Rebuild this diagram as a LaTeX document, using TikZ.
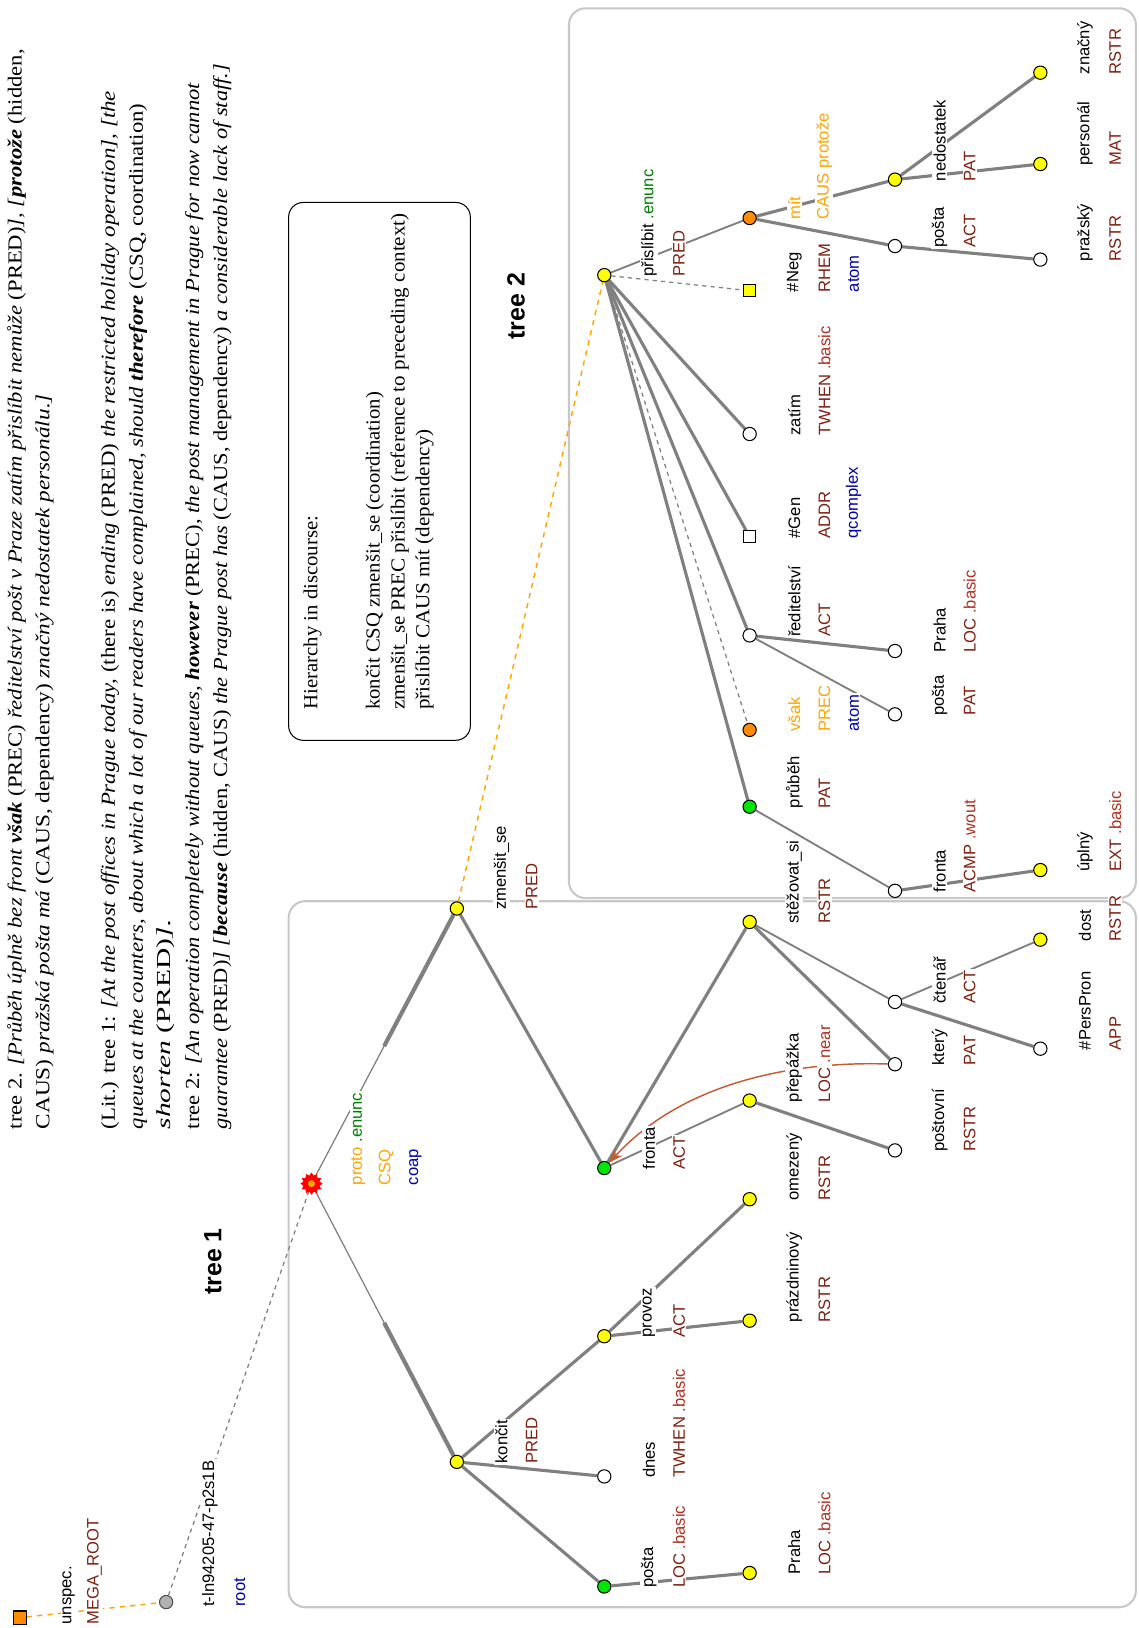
\documentclass[tikz,border=0pt]{standalone}
\usepackage{graphicx}
\usepackage{fontspec}
\setmainfont{Liberation Serif}
\setsansfont{Liberation Sans}
\usetikzlibrary{calc,shapes.geometric,arrows.meta}
\pgfdeclarelayer{bg}\pgfdeclarelayer{edges}\pgfdeclarelayer{labels}
\pgfsetlayers{bg,edges,labels,main}
\definecolor{edgegray}{RGB}{128,128,128}
\definecolor{boxgray}{RGB}{200,200,200}
\definecolor{fun}{RGB}{128,32,16}
\definecolor{subf}{RGB}{176,48,32}
\definecolor{org}{RGB}{255,165,0}
\definecolor{grn}{RGB}{0,128,0}
\definecolor{blu}{RGB}{0,0,170}
\definecolor{yel}{RGB}{255,255,0}
\definecolor{ngreen}{RGB}{0,230,0}
\definecolor{ornode}{RGB}{255,140,0}
\definecolor{corefc}{RGB}{200,90,50}
\newcommand\lf{\sffamily\fontsize{8}{9.6}\selectfont}
\newcommand\tf{\rmfamily\fontsize{9.6}{11.6}\selectfont}
\newcommand\fu[1]{\textcolor{fun}{#1}}
\newcommand\sbf[1]{\textcolor{subf}{#1}}
\newcommand\bi[1]{\textbf{\textit{#1}}}
\newcommand\fitw[2]{\resizebox{#1}{\height}{#2}}
\tikzset{
  edge/.style={draw=edgegray, line width=1.5pt},
  thinedge/.style={draw=edgegray, line width=0.9pt},
  graydash/.style={draw=edgegray, line width=0.6pt, dash pattern=on 2pt off 2pt},
  orgdash/.style={draw=org, line width=0.7pt, dash pattern=on 2.5pt off 2.5pt},
  coref/.style={draw=corefc, line width=0.7pt, -{Stealth[length=7pt,width=5pt]}},
  lbl/.style={rotate=90, anchor=west, fill=white, inner sep=0.6pt, font=\lf},
  txt/.style={rotate=90, anchor=west, inner sep=0pt, font=\tf},
  tn/.style={circle, draw=black, line width=0.5pt, minimum size=6.4pt, inner sep=0pt},
  sq/.style={rectangle, draw=black, line width=0.5pt, minimum size=5.6pt, inner sep=0pt},
  boxline/.style={draw=boxgray, line width=1pt, rounded corners=8pt},
  treetitle/.style={rotate=90, font=\sffamily\bfseries\fontsize{12}{14}\selectfont}
}
\newcommand\labAB[3]{%
  \node[lbl] (#1-a) at ($(#1)+(43,3)$) {#2};
  \node[lbl] (#1-b) at ($(#1)+(72,3)$) {#3};}
\newcommand\labC[2]{\node[lbl] (#1-c) at ($(#1)+(100,3)$) {#2};}
\begin{document}
\begin{tikzpicture}[x=0.5pt,y=-0.5pt]
\useasboundingbox (0,0) rectangle (1097,1568);
\begin{pgfonlayer}{bg}
\fill[white] (0,0) rectangle (1097,1568);
\draw[boxline] (548,8) rectangle (1094,865);
\draw[boxline] (278,868) rectangle (1094,1548);
\end{pgfonlayer}

% ---------- header text ----------
\node[txt] (t1) at (16,1088) {\fitw{520pt}{tree 2. \textit{[Průběh úplně bez front} \bi{však} (PREC) \textit{ředitelství pošt v Praze zatím přislíbit nemůže} (PRED)\textit{],} \textit{[}\bi{protože} (hidden,}};
\node[txt] (t2) at (43,1088) {\fitw{354pt}{CAUS) \textit{pražská pošta má} (CAUS, dependency) \textit{značný nedostatek personálu.]}}};
\node[txt] (t3) at (106,1088) {\fitw{500pt}{(Lit.) tree 1: \textit{[At the post offices in Prague today,} (there is) \textit{ending} (PRED) \textit{the restricted holiday operation], [the}}};
\node[txt] (t4) at (133,1088) {\fitw{494pt}{\textit{queues at the counters, about which a lot of our readers have complained, should} \bi{therefore} (CSQ, coordination)}};
\node[txt] (t5) at (160,1088) {\fitw{101pt}{\textit{shorten} (PRED)\textit{].}}};
\node[txt] (t6) at (187,1088) {\fitw{504pt}{tree 2: \textit{[An operation completely without queues,} \bi{however} (PREC), \textit{the post management in Prague for now cannot}}};
\node[txt] (t7) at (214,1088) {\fitw{513pt}{\textit{guarantee} (PRED)\textit{]} \textit{[}\bi{because} (hidden, CAUS) \textit{the Prague post has} (CAUS, dependency) \textit{a considerable lack of staff.]}}};

% ---------- discourse box ----------
\draw[black, line width=0.5pt, rounded corners=7pt] (278,195) rectangle (453,713);
\node[txt] (h0) at (301,684) {\fitw{93.5pt}{Hierarchy in discourse:}};
\node[txt] (h1) at (361,684) {\fitw{153pt}{končit CSQ zmenšit\_se (coordination)}};
\node[txt] (h2) at (385,684) {\fitw{239pt}{zmenšit\_se PREC přislíbit (reference to preceding context)}};
\node[txt] (h3) at (409,684) {\fitw{135pt}{přislíbit CAUS mít (dependency)}};

\node[treetitle] (tree1) at (205,1215) {tree 1};
\node[treetitle] (tree2) at (497,295) {tree 2};

% ---------- nodes : tree 1 ----------
\node[sq, fill=ornode, minimum size=6.4pt] (mega) at (19,1558) {};
\node[circle, draw=black!70, fill=black!30, line width=0.5pt, minimum size=6.4pt, inner sep=0pt] (root) at (160,1543) {};
\node[star, star points=12, star point ratio=1.35, fill=red, draw=red, minimum size=10pt, inner sep=0pt] (coap) at (300,1140) {};
\node[circle, fill=org, minimum size=3.4pt, inner sep=0pt] (coapc) at (coap) {};
\node[tn, fill=yel] (zmen) at (440,875) {};
\node[tn, fill=yel] (koncit) at (440,1408) {};
\node[tn, fill=ngreen] (posta1) at (582,1528) {};
\node[tn, fill=yel] (praha1) at (722,1515) {};
\node[tn, fill=white] (dnes) at (582,1422) {};
\node[tn, fill=yel] (provoz) at (582,1287) {};
\node[tn, fill=yel] (prazd) at (722,1272) {};
\node[tn, fill=yel] (omez) at (722,1155) {};
\node[tn, fill=ngreen] (fronta1) at (582,1125) {};
\node[tn, fill=yel] (prep) at (722,1060) {};
\node[tn, fill=white] (postov) at (862,1108) {};
\node[tn, fill=yel] (stez) at (722,888) {};
\node[tn, fill=white] (cten) at (862,965) {};
\node[tn, fill=white] (ktery) at (862,1025) {};
\node[tn, fill=yel] (dost) at (1002,905) {};
\node[tn, fill=white] (perspron) at (1002,1010) {};

% ---------- nodes : tree 2 ----------
\node[tn, fill=yel] (prisl) at (582,265) {};
\node[sq, fill=yel] (neg) at (722,280) {};
\node[tn, fill=ornode] (mit) at (722,210) {};
\node[tn, fill=yel] (nedost) at (862,173) {};
\node[tn, fill=yel] (znacny) at (1002,70) {};
\node[tn, fill=yel] (personal) at (1002,158) {};
\node[tn, fill=white] (posta2) at (862,237) {};
\node[tn, fill=white] (prazsky) at (1002,250) {};
\node[tn, fill=white] (zatim) at (722,418) {};
\node[sq, fill=white] (gen) at (722,517) {};
\node[tn, fill=white] (redit) at (722,612) {};
\node[tn, fill=white] (praha2) at (862,627) {};
\node[tn, fill=white] (posta3) at (862,688) {};
\node[tn, fill=ornode] (vsak) at (722,703) {};
\node[tn, fill=ngreen] (prubeh) at (722,777) {};
\node[tn, fill=white] (fronta2) at (862,858) {};
\node[tn, fill=yel] (uplny) at (1002,838) {};

% ---------- edges ----------
\begin{pgfonlayer}{edges}
\draw[orgdash] (mega) -- (root);
\draw[graydash] (root) -- (coap);
\coordinate (mk) at ($(coap)!0.5!(koncit)$);
\coordinate (mz) at ($(coap)!0.5!(zmen)$);
\draw[thinedge, line width=0.6pt] (coap) -- (mk);
\draw[edge, line width=2pt] (mk) -- (koncit);
\draw[thinedge, line width=0.6pt] (coap) -- (mz);
\draw[edge, line width=2pt] (mz) -- (zmen);
\draw[edge] (zmen) -- (fronta1);
\draw[edge] (fronta1) -- (stez);
\draw[thinedge] (fronta1) -- (prep);
\draw[edge] (prep) -- (postov);
\draw[thinedge] (stez) -- (cten);
\draw[edge] (stez) -- (ktery);
\draw[thinedge] (cten) -- (dost);
\draw[edge] (cten) -- (perspron);
\draw[edge] (koncit) -- (provoz);
\draw[edge] (koncit) -- (dnes);
\draw[edge] (koncit) -- (posta1);
\draw[edge] (posta1) -- (praha1);
\draw[edge] (provoz) -- (prazd);
\draw[edge] (provoz) -- (omez);
\draw[coref] (ktery) .. controls (770,1022) and (660,1040) .. (fronta1);
\draw[orgdash] (zmen) -- (prisl);
\draw[graydash] (prisl) -- (neg);
\draw[thinedge] (prisl) -- (mit);
\draw[edge] (mit) -- (nedost);
\draw[edge] (mit) -- (posta2);
\draw[edge] (nedost) -- (znacny);
\draw[edge] (nedost) -- (personal);
\draw[edge] (posta2) -- (prazsky);
\draw[edge] (prisl) -- (zatim);
\draw[edge] (prisl) -- (gen);
\draw[edge] (prisl) -- (redit);
\draw[graydash] (prisl) -- (vsak);
\draw[edge] (prisl) -- (prubeh);
\draw[edge] (redit) -- (praha2);
\draw[thinedge] (redit) -- (posta3);
\draw[thinedge] (prubeh) -- (fronta2);
\draw[edge] (fronta2) -- (uplny);
\end{pgfonlayer}

% ---------- labels ----------
\begin{pgfonlayer}{labels}
\node[lbl] (mega-a) at (66,1566) {unspec.};
\node[lbl] (mega-b) at (91,1566) {\fu{MEGA\_ROOT}};
\node[lbl] (root-a) at (202,1549) {t-ln94205-47-p2s1B};
\node[lbl] (root-b) at (231,1549) {\textcolor{blu}{root}};
\node[lbl] (coap-a) at (345,1143) {\textcolor{org}{proto} \textcolor{grn}{.enunc}};
\node[lbl] (coap-b) at (372,1143) {\textcolor{org}{CSQ}};
\node[lbl] (coap-c) at (400,1143) {\textcolor{blu}{coap}};
\labAB{zmen}{zmenšit\_se}{\fu{PRED}}
\labAB{koncit}{končit}{\fu{PRED}}
\labAB{posta1}{pošta}{\fu{LOC} \sbf{.basic}}
\labAB{praha1}{Praha}{\fu{LOC} \sbf{.basic}}
\labAB{dnes}{dnes}{\fu{TWHEN} \sbf{.basic}}
\labAB{provoz}{provoz}{\fu{ACT}}
\labAB{prazd}{prázdninový}{\fu{RSTR}}
\labAB{omez}{omezený}{\fu{RSTR}}
\labAB{fronta1}{fronta}{\fu{ACT}}
\labAB{prep}{přepážka}{\fu{LOC} \sbf{.near}}
\labAB{postov}{poštovní}{\fu{RSTR}}
\labAB{stez}{stěžovat\_si}{\fu{RSTR}}
\labAB{cten}{čtenář}{\fu{ACT}}
\labAB{ktery}{který}{\fu{PAT}}
\labAB{dost}{dost}{\fu{RSTR}}
\labAB{perspron}{\#PersPron}{\fu{APP}}
\labAB{prisl}{přislíbit \textcolor{grn}{.enunc}}{\fu{PRED}}
\labAB{neg}{\#Neg}{\fu{RHEM}}
\labC{neg}{\textcolor{blu}{atom}}
\labAB{mit}{\textcolor{org}{mít}}{\textcolor{org}{CAUS protože}}
\labAB{nedost}{nedostatek}{\fu{PAT}}
\labAB{znacny}{značný}{\fu{RSTR}}
\labAB{personal}{personál}{\fu{MAT}}
\labAB{posta2}{pošta}{\fu{ACT}}
\labAB{prazsky}{pražský}{\fu{RSTR}}
\labAB{zatim}{zatím}{\fu{TWHEN} \sbf{.basic}}
\labAB{gen}{\#Gen}{\fu{ADDR}}
\labC{gen}{\textcolor{blu}{qcomplex}}
\labAB{redit}{ředitelství}{\fu{ACT}}
\labAB{praha2}{Praha}{\fu{LOC} \sbf{.basic}}
\labAB{posta3}{pošta}{\fu{PAT}}
\labAB{vsak}{\textcolor{org}{však}}{\textcolor{org}{PREC}}
\labC{vsak}{\textcolor{blu}{atom}}
\labAB{prubeh}{průběh}{\fu{PAT}}
\labAB{fronta2}{fronta}{\fu{ACMP} \sbf{.wout}}
\labAB{uplny}{úplný}{\fu{EXT} \sbf{.basic}}
\end{pgfonlayer}
\end{tikzpicture}
\end{document}
